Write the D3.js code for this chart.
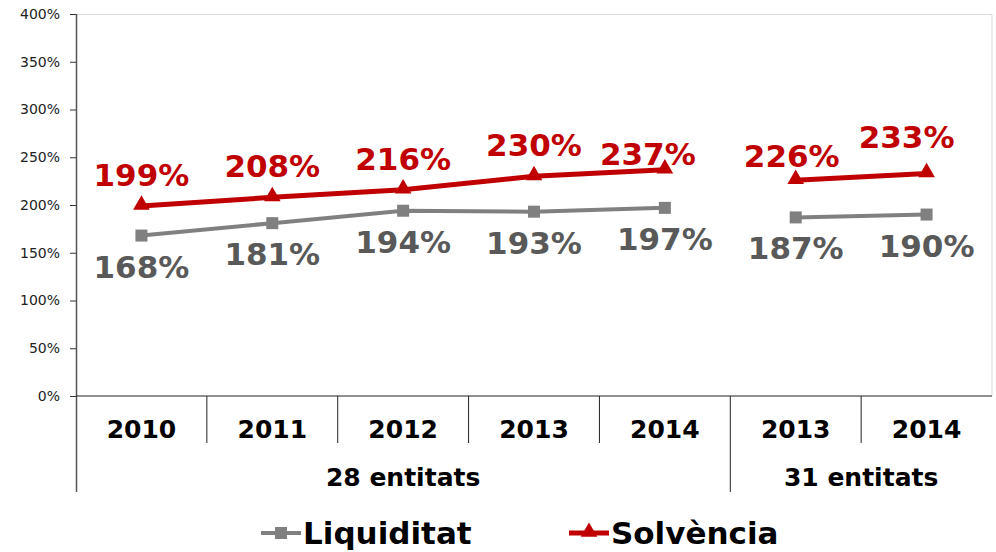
<!DOCTYPE html>
<html>
<head>
<meta charset="utf-8">
<script src="https://cdn.jsdelivr.net/npm/d3@7"></script>
<style>
  body { margin: 0; background: #fff; }
  svg { font-family: "DejaVu Sans", Verdana, sans-serif; }
</style>
</head>
<body>
<div id="chart"></div>
<script>
// chart values
const years = ["2010", "2011", "2012", "2013", "2014", "2013", "2014"];
const groups = [
  { label: "28 entitats", from: 0, to: 4 },
  { label: "31 entitats", from: 5, to: 6 }
];
const liquiditat = [168, 181, 194, 193, 197, 187, 190];
const solvencia = [199, 208, 216, 230, 237, 226, 233];
const segments = [[0, 4], [5, 6]]; // points joined by a line
const yTicks = [0, 50, 100, 150, 200, 250, 300, 350, 400];

// label nudges for the solvència labels (dx, dy in px)
const solvLabelShift = [[0, 0], [0, 0], [0, 0], [0, 0], [-17, 15], [-4, 7], [-20, -5]];

const W = 996, H = 552;
const margin = { top: 14, right: 4, left: 76, bottom: 156 };
const plotW = W - margin.left - margin.right;
const plotH = H - margin.top - margin.bottom;

const svg = d3.select('#chart').append('svg')
  .attr('width', W).attr('height', H);

const g = svg.append('g')
  .attr('transform', 'translate(' + margin.left + ',' + margin.top + ')');

const x = d3.scaleBand()
  .domain(d3.range(years.length))
  .range([0, plotW]);

const y = d3.scaleLinear()
  .domain([0, 400])
  .range([plotH, 0]);

// plot border (top and right)
g.append('path')
  .attr('d', 'M0,0.5H' + plotW + 'V' + plotH)
  .attr('fill', 'none')
  .attr('stroke', '#d9d9d9')
  .attr('stroke-width', 1);

// y axis
const yAxis = g.append('g')
  .call(d3.axisLeft(y).tickValues(yTicks).tickFormat(d => d + '%').tickSize(6).tickPadding(10));
yAxis.select('.domain').remove();
yAxis.selectAll('.tick line').attr('stroke', '#333');
yAxis.selectAll('text')
  .style('font-size', '14px')
  .attr('fill', '#222')
  .style('font-family', '"DejaVu Sans", Verdana, sans-serif');

// left axis line down to bottom of group labels
g.append('line')
  .attr('x1', 0.5).attr('x2', 0.5)
  .attr('y1', 0).attr('y2', plotH + 96)
  .attr('stroke', '#555').attr('stroke-width', 1.5);

// baseline
g.append('line')
  .attr('x1', 0).attr('x2', plotW)
  .attr('y1', y(0)).attr('y2', y(0))
  .attr('stroke', '#222').attr('stroke-width', 1.2);

// category dividers
for (let i = 1; i < years.length; i++) {
  const isGroupEdge = groups.some(gr => gr.from === i);
  g.append('line')
    .attr('x1', x(i)).attr('x2', x(i))
    .attr('y1', plotH).attr('y2', plotH + (isGroupEdge ? 96 : 47))
    .attr('stroke', '#222').attr('stroke-width', 1);
}

// year labels
g.selectAll('.year')
  .data(years)
  .enter().append('text')
  .attr('class', 'year')
  .attr('x', (d, i) => x(i) + x.bandwidth() / 2)
  .attr('y', plotH + 42)
  .attr('text-anchor', 'middle')
  .style('font-size', '25px')
  .style('font-weight', 'bold')
  .attr('fill', '#000')
  .text(d => d);

// group labels
g.selectAll('.group')
  .data(groups)
  .enter().append('text')
  .attr('class', 'group')
  .attr('x', d => (x(d.from) + x(d.to) + x.bandwidth()) / 2)
  .attr('y', plotH + 90)
  .attr('text-anchor', 'middle')
  .style('font-size', '25px')
  .style('font-weight', 'bold')
  .attr('fill', '#000')
  .text(d => d.label);

const cx = i => x(i) + x.bandwidth() / 2;
const line = d3.line()
  .x(d => cx(d.i))
  .y(d => y(d.v));

function drawSeries(values, color, width) {
  segments.forEach(s => {
    const pts = d3.range(s[0], s[1] + 1).map(i => ({ i: i, v: values[i] }));
    g.append('path')
      .datum(pts)
      .attr('d', line)
      .attr('fill', 'none')
      .attr('stroke', color)
      .attr('stroke-width', width);
  });
}

drawSeries(liquiditat, '#808080', 4);
drawSeries(solvencia, '#c00000', 5);

// markers
g.selectAll('.sq')
  .data(liquiditat)
  .enter().append('rect')
  .attr('x', (d, i) => cx(i) - 6)
  .attr('y', d => y(d) - 6)
  .attr('width', 12).attr('height', 12)
  .attr('fill', '#808080');

const tri = d3.symbol().type(d3.symbolTriangle).size(120);
g.selectAll('.tri')
  .data(solvencia)
  .enter().append('path')
  .attr('d', tri)
  .attr('transform', (d, i) => 'translate(' + cx(i) + ',' + (y(d) - 1) + ')')
  .attr('fill', '#c00000');

// value labels
g.selectAll('.lblS')
  .data(solvencia)
  .enter().append('text')
  .attr('x', (d, i) => cx(i) + solvLabelShift[i][0])
  .attr('y', (d, i) => y(d) - 20 + solvLabelShift[i][1])
  .attr('text-anchor', 'middle')
  .style('font-size', '31px')
  .style('font-weight', 'bold')
  .attr('fill', '#c00000')
  .text(d => d + '%');

g.selectAll('.lblL')
  .data(liquiditat)
  .enter().append('text')
  .attr('x', (d, i) => cx(i))
  .attr('y', d => y(d) + 42)
  .attr('text-anchor', 'middle')
  .style('font-size', '31px')
  .style('font-weight', 'bold')
  .attr('fill', '#595959')
  .text(d => d + '%');

// legend
const legend = [
  { label: "Liquiditat", color: '#808080', x: 261, shape: 'sq' },
  { label: "Solvència", color: '#c00000', x: 569, shape: 'tri' }
];
const lg = svg.selectAll('.legend')
  .data(legend)
  .enter().append('g')
  .attr('class', 'legend')
  .attr('transform', d => 'translate(' + d.x + ',' + 533 + ')');

lg.append('line')
  .attr('x1', 0).attr('x2', 40)
  .attr('y1', 0).attr('y2', 0)
  .attr('stroke', d => d.color)
  .attr('stroke-width', d => d.shape === 'sq' ? 4 : 5);

lg.each(function (d) {
  const el = d3.select(this);
  if (d.shape === 'sq') {
    el.append('rect').attr('x', 14).attr('y', -6).attr('width', 12).attr('height', 12).attr('fill', d.color);
  } else {
    el.append('path').attr('d', tri).attr('transform', 'translate(20,-1)').attr('fill', d.color);
  }
});

lg.append('text')
  .attr('x', 42)
  .attr('y', 11)
  .style('font-size', '31px')
  .style('font-weight', 'bold')
  .attr('fill', '#000')
  .text(d => d.label);
</script>
</body>
</html>
